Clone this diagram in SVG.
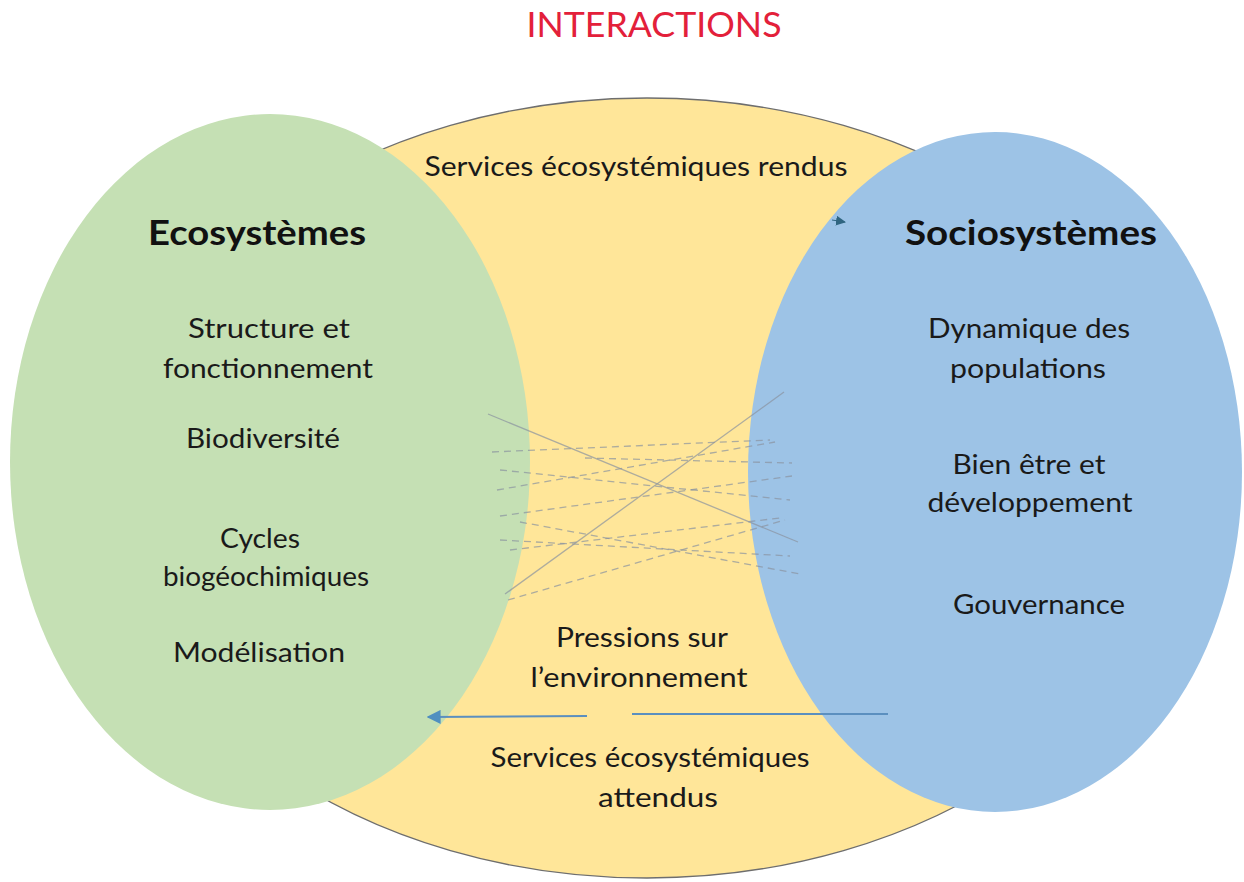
<svg xmlns="http://www.w3.org/2000/svg" width="1244" height="882" viewBox="0 0 1244 882">
  <defs>
    <style>
      .t { font-family: Lato, "Open Sans", "Liberation Sans", sans-serif; fill: #1a1a1a; text-anchor: middle; font-size: 26px; }
      .h { font-weight: bold; font-size: 34px; fill: #111; }
      .title { font-size: 34px; fill: #e3203a; }
      .link { fill: none; stroke: #8a93a0; stroke-width: 1.3; stroke-opacity: 0.7; }
      .dash { stroke-dasharray: 7 5; }
      .flow { fill: none; stroke: #5b8fbf; stroke-width: 1.8; }
    </style>
    <marker id="head" viewBox="0 0 10 10" refX="9" refY="5" markerWidth="10" markerHeight="10" orient="auto" markerUnits="userSpaceOnUse">
      <path d="M0,0 L10,5 L0,10 z" fill="#2f6580"/>
    </marker>
    <marker id="headBig" viewBox="0 0 10 10" refX="9" refY="5" markerWidth="14" markerHeight="14" orient="auto" markerUnits="userSpaceOnUse">
      <path d="M0,0 L10,5 L0,10 z" fill="#4f8fc0"/>
    </marker>
  </defs>

  <rect width="1244" height="882" fill="#ffffff"/>

  <!-- interaction zone -->
  <g id="interactions">
    <ellipse cx="647" cy="488" rx="534" ry="390" fill="#ffe699" stroke="#6e6e6e" stroke-width="1.4"/>
    <text class="t title" x="654" y="37" textLength="255" lengthAdjust="spacingAndGlyphs">INTERACTIONS</text>
  </g>

  <!-- ecosystems -->
  <g id="ecosystemes">
    <ellipse cx="270" cy="462" rx="260" ry="348" fill="#c5e0b4"/>
    <text class="t h" x="257" y="245" textLength="218" lengthAdjust="spacingAndGlyphs">Ecosystèmes</text>
    <text class="t" x="269" y="338" textLength="162" lengthAdjust="spacingAndGlyphs">Structure et</text>
    <text class="t" x="268" y="378" textLength="210" lengthAdjust="spacingAndGlyphs">fonctionnement</text>
    <text class="t" x="263" y="448" textLength="154" lengthAdjust="spacingAndGlyphs">Biodiversité</text>
    <text class="t" x="260" y="548" textLength="80" lengthAdjust="spacingAndGlyphs">Cycles</text>
    <text class="t" x="266" y="586" textLength="206" lengthAdjust="spacingAndGlyphs">biogéochimiques</text>
    <text class="t" x="259" y="662" textLength="172" lengthAdjust="spacingAndGlyphs">Modélisation</text>
  </g>

  <!-- sociosystems -->
  <g id="sociosystemes">
    <ellipse cx="995" cy="472" rx="247" ry="340" fill="#9dc3e6"/>
    <text class="t h" x="1031" y="245" textLength="252" lengthAdjust="spacingAndGlyphs">Sociosystèmes</text>
    <text class="t" x="1029" y="338" textLength="202" lengthAdjust="spacingAndGlyphs">Dynamique des</text>
    <text class="t" x="1028" y="378" textLength="156" lengthAdjust="spacingAndGlyphs">populations</text>
    <text class="t" x="1029" y="474" textLength="153" lengthAdjust="spacingAndGlyphs">Bien être et</text>
    <text class="t" x="1030" y="512" textLength="205" lengthAdjust="spacingAndGlyphs">développement</text>
    <text class="t" x="1039" y="614" textLength="172" lengthAdjust="spacingAndGlyphs">Gouvernance</text>
  </g>

  <!-- labels on the flows -->
  <g id="flow-labels">
    <text class="t" x="636" y="176" textLength="423" lengthAdjust="spacingAndGlyphs">Services écosystémiques rendus</text>
    <text class="t" x="642" y="647" textLength="172" lengthAdjust="spacingAndGlyphs">Pressions sur</text>
    <text class="t" x="639" y="687" textLength="217" lengthAdjust="spacingAndGlyphs">l’environnement</text>
    <text class="t" x="650" y="767" textLength="319" lengthAdjust="spacingAndGlyphs">Services écosystémiques</text>
    <text class="t" x="658" y="807" textLength="120" lengthAdjust="spacingAndGlyphs">attendus</text>
  </g>

  <!-- connectors -->
  <g id="connectors">
    <!-- web of cross links -->
    <line class="link" x1="488" y1="414" x2="798" y2="542"/>
    <line class="link" x1="505" y1="594" x2="784" y2="392"/>
    <line class="link dash" x1="492" y1="452" x2="770" y2="440"/>
    <line class="link dash" x1="585" y1="458" x2="792" y2="463"/>
    <line class="link dash" x1="497" y1="490" x2="775" y2="442"/>
    <line class="link dash" x1="500" y1="516" x2="792" y2="476"/>
    <line class="link dash" x1="520" y1="522" x2="800" y2="574"/>
    <line class="link dash" x1="510" y1="550" x2="780" y2="518"/>
    <line class="link dash" x1="500" y1="540" x2="790" y2="556"/>
    <line class="link dash" x1="500" y1="470" x2="790" y2="500"/>
    <line class="link dash" x1="508" y1="600" x2="785" y2="520"/>

    <!-- services rendered: arrowhead at the sociosystem edge -->
    <line x1="832" y1="220" x2="845" y2="222" stroke="#2f6580" stroke-width="1" marker-end="url(#head)"/>

    <!-- expected services / pressures: back to ecosystems -->
    <line class="flow" x1="888" y1="714" x2="632" y2="714"/>
    <line class="flow" x1="587" y1="716" x2="428" y2="717" marker-end="url(#headBig)"/>
  </g>
</svg>
